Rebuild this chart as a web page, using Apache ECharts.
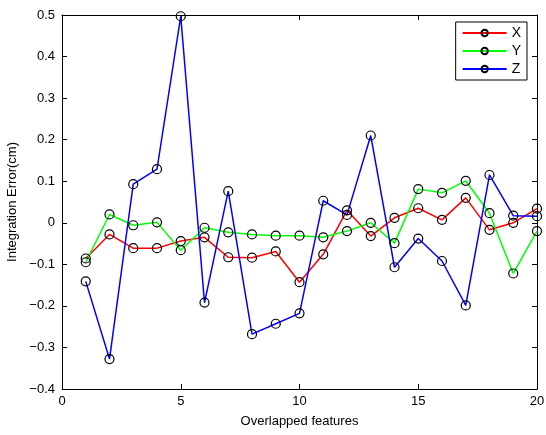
<!DOCTYPE html>
<html><head><meta charset="utf-8">
<script src="https://cdn.jsdelivr.net/npm/echarts@6/dist/echarts.min.js"></script>
<style>html,body{margin:0;padding:0;background:#fff}#c{width:546px;height:435px}</style>
</head><body><div id="c"></div>
<script>
const features = [1,2,3,4,5,6,7,8,9,10,11,12,13,14,15,16,17,18,19,20];
const errX = [-0.086,-0.028,-0.061,-0.061,-0.044,-0.035,-0.083,-0.084,-0.069,-0.143,-0.076,0.030,-0.032,0.012,0.035,0.007,0.060,-0.017,0.000,0.034];
const errY = [-0.095,0.020,-0.006,0.001,-0.066,-0.012,-0.023,-0.028,-0.031,-0.031,-0.035,-0.020,0.000,-0.049,0.081,0.072,0.101,0.023,-0.122,-0.020];
const errZ = [-0.141,-0.328,0.093,0.129,0.497,-0.192,0.076,-0.268,-0.243,-0.218,0.053,0.019,0.210,-0.107,-0.038,-0.092,-0.199,0.115,0.017,0.016];
const seriesNames = ['X','Y','Z'];
const seriesColors = ['#ff0000','#00ff00','#0000ff'];
const FONT = 'Liberation Sans, Arial, sans-serif';

const chart = echarts.init(document.getElementById('c'), null, {renderer:'canvas'});
const fmt = v => (v < 0 ? '\u2212' + String(Math.abs(Math.round(v*10)/10)) : String(Math.round(v*10)/10));
const datas = [errX, errY, errZ];
const axisCommon = {
  axisLine:{show:true, onZero:false, lineStyle:{color:'#000', width:1}},
  axisTick:{show:true, inside:true, length:5, lineStyle:{color:'#000'}},
  splitLine:{show:false}
};
chart.setOption({
  animation:false,
  backgroundColor:'#fff',
  grid:{left:62, right:9, top:15, bottom:46, containLabel:false, outerBoundsMode:'none'},
  legend:{
    data:seriesNames, orient:'vertical', right:19, top:22,
    itemWidth:44, itemHeight:8, itemGap:4,
    padding:[4,6,4,6],
    backgroundColor:'#fff', borderColor:'#000', borderWidth:1,
    textStyle:{fontFamily:FONT, fontSize:14, lineHeight:14, color:'#000'}
  },
  xAxis:[
    Object.assign({type:'value', min:0, max:20, interval:5, position:'bottom',
      name:'Overlapped features', nameLocation:'middle', nameGap:26,
      nameTextStyle:{fontFamily:FONT, fontSize:13, color:'#000'},
      axisLabel:{fontFamily:FONT, fontSize:13, color:'#000', margin:6}}, axisCommon),
    Object.assign({type:'value', min:0, max:20, interval:5, position:'top',
      axisLabel:{show:false}}, axisCommon)
  ],
  yAxis:[
    Object.assign({type:'value', min:-0.4, max:0.5, interval:0.1, position:'left',
      name:'Integration Error(cm)', nameLocation:'middle', nameGap:42,
      nameTextStyle:{fontFamily:FONT, fontSize:13, color:'#000'},
      axisLabel:{fontFamily:FONT, fontSize:13, color:'#000', margin:7, formatter:fmt}}, axisCommon),
    Object.assign({type:'value', min:-0.4, max:0.5, interval:0.1, position:'right',
      axisLabel:{show:false}}, axisCommon)
  ],
  series: seriesNames.map((n,i)=>({
    name:n, type:'line', xAxisIndex:0, yAxisIndex:0,
    data: features.map((f,j)=>[f, datas[i][j]]),
    symbol:'circle', symbolSize:9, showSymbol:true,
    lineStyle:{color:seriesColors[i], width:1.5},
    itemStyle:{color:'rgba(0,0,0,0)', borderColor:'#000', borderWidth:1.2},
    emphasis:{disabled:true}
  }))
});
</script></body></html>
